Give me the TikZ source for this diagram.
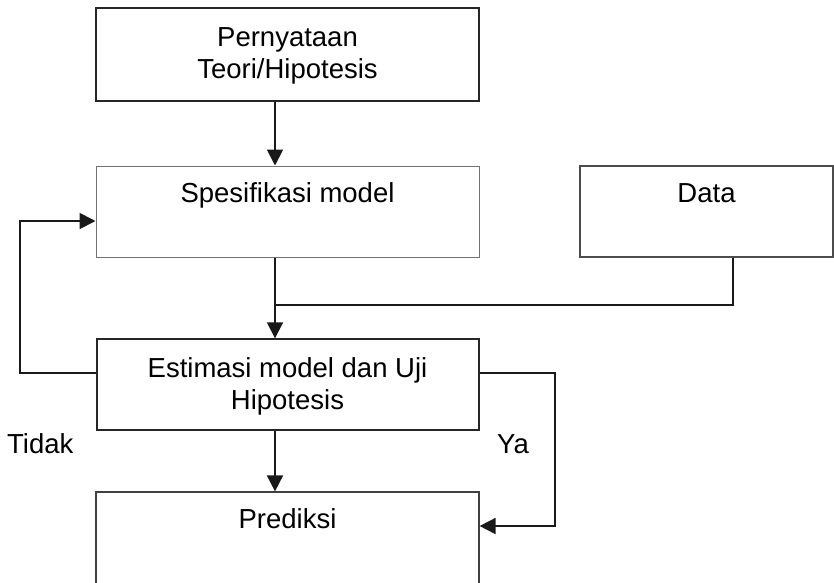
\documentclass[tikz,border=0pt]{standalone}
\usepackage{fontspec}
\setmainfont{Liberation Sans}
\usetikzlibrary{arrows.meta,calc}

\begin{document}
\begin{tikzpicture}[x=1pt,y=-1pt,
  box/.style={draw=black!85,line width=1.8pt,rectangle,inner sep=0pt},
  thinbox/.style={draw=black!55,line width=1pt,rectangle,inner sep=0pt},
  txt/.style={anchor=base,inner sep=0pt,font=\fontsize{27.5}{32}\selectfont},
  link/.style={line width=1.8pt,draw=black!90},
  arr/.style={link,-{Triangle[length=16pt,width=16pt]}}]
\useasboundingbox (0,0) rectangle (834,582);
\clip (0,0) rectangle (834,582);

% boxes
\node[box,minimum width=383pt,minimum height=93pt] (teori) at (287.5,54.5) {};
\node[thinbox,minimum width=383pt,minimum height=91pt] (spek) at (287.5,211.5) {};
\node[box,draw=black!70,minimum width=253pt,minimum height=91pt] (data) at (706.5,211.5) {};
\node[box,line width=1.4pt,minimum width=382pt,minimum height=91pt] (estim) at (288,384.5) {};
\node[thinbox,draw=black!75,line width=1.2pt,minimum width=383pt,minimum height=110pt] (pred) at (287.5,547) {};

% texts
\node[txt] (t1) at (287.5,46) {Pernyataan};
\node[txt] (t2) at (287.5,78) {Teori/Hipotesis};
\node[txt] (t3) at (287.5,202) {Spesifikasi model};
\node[txt] (t4) at (706.5,202) {Data};
\node[txt] (t5) at (287.5,377) {Estimasi model dan Uji};
\node[txt] (t6) at (287.5,409) {Hipotesis};
\node[txt] (t7) at (287.5,528) {Prediksi};
\node[txt,anchor=base west] (tidak) at (7,453) {Tidak};
\node[txt,anchor=base west] (ya) at (497,453) {Ya};

% routing points
\coordinate (spine) at (275,0);
\coordinate (join) at (275,305);
\coordinate (dataline) at (733,0);
\coordinate (leftx) at (20,0);
\coordinate (rightx) at (555,0);
\coordinate (loopy) at (0,373);
\coordinate (backy) at (0,221);
\coordinate (yay) at (0,526);

% connectors
\draw[arr] (teori.south -| spine) -- (spek.north -| spine);
\draw[link] (spek.south -| spine) -- (join);
\draw[arr] (join) -- (estim.north -| spine);
\draw[link] (data.south -| dataline) -- (join -| dataline) -- (join);
\draw[arr] (estim.west |- loopy) -- (leftx |- loopy) -- (leftx |- backy) -- (spek.west |- backy);
\draw[arr] (estim.east |- loopy) -- (rightx |- loopy) -- (rightx |- yay) -- (pred.east |- yay);
\draw[arr] (estim.south -| spine) -- (pred.north -| spine);
\end{tikzpicture}
\end{document}
